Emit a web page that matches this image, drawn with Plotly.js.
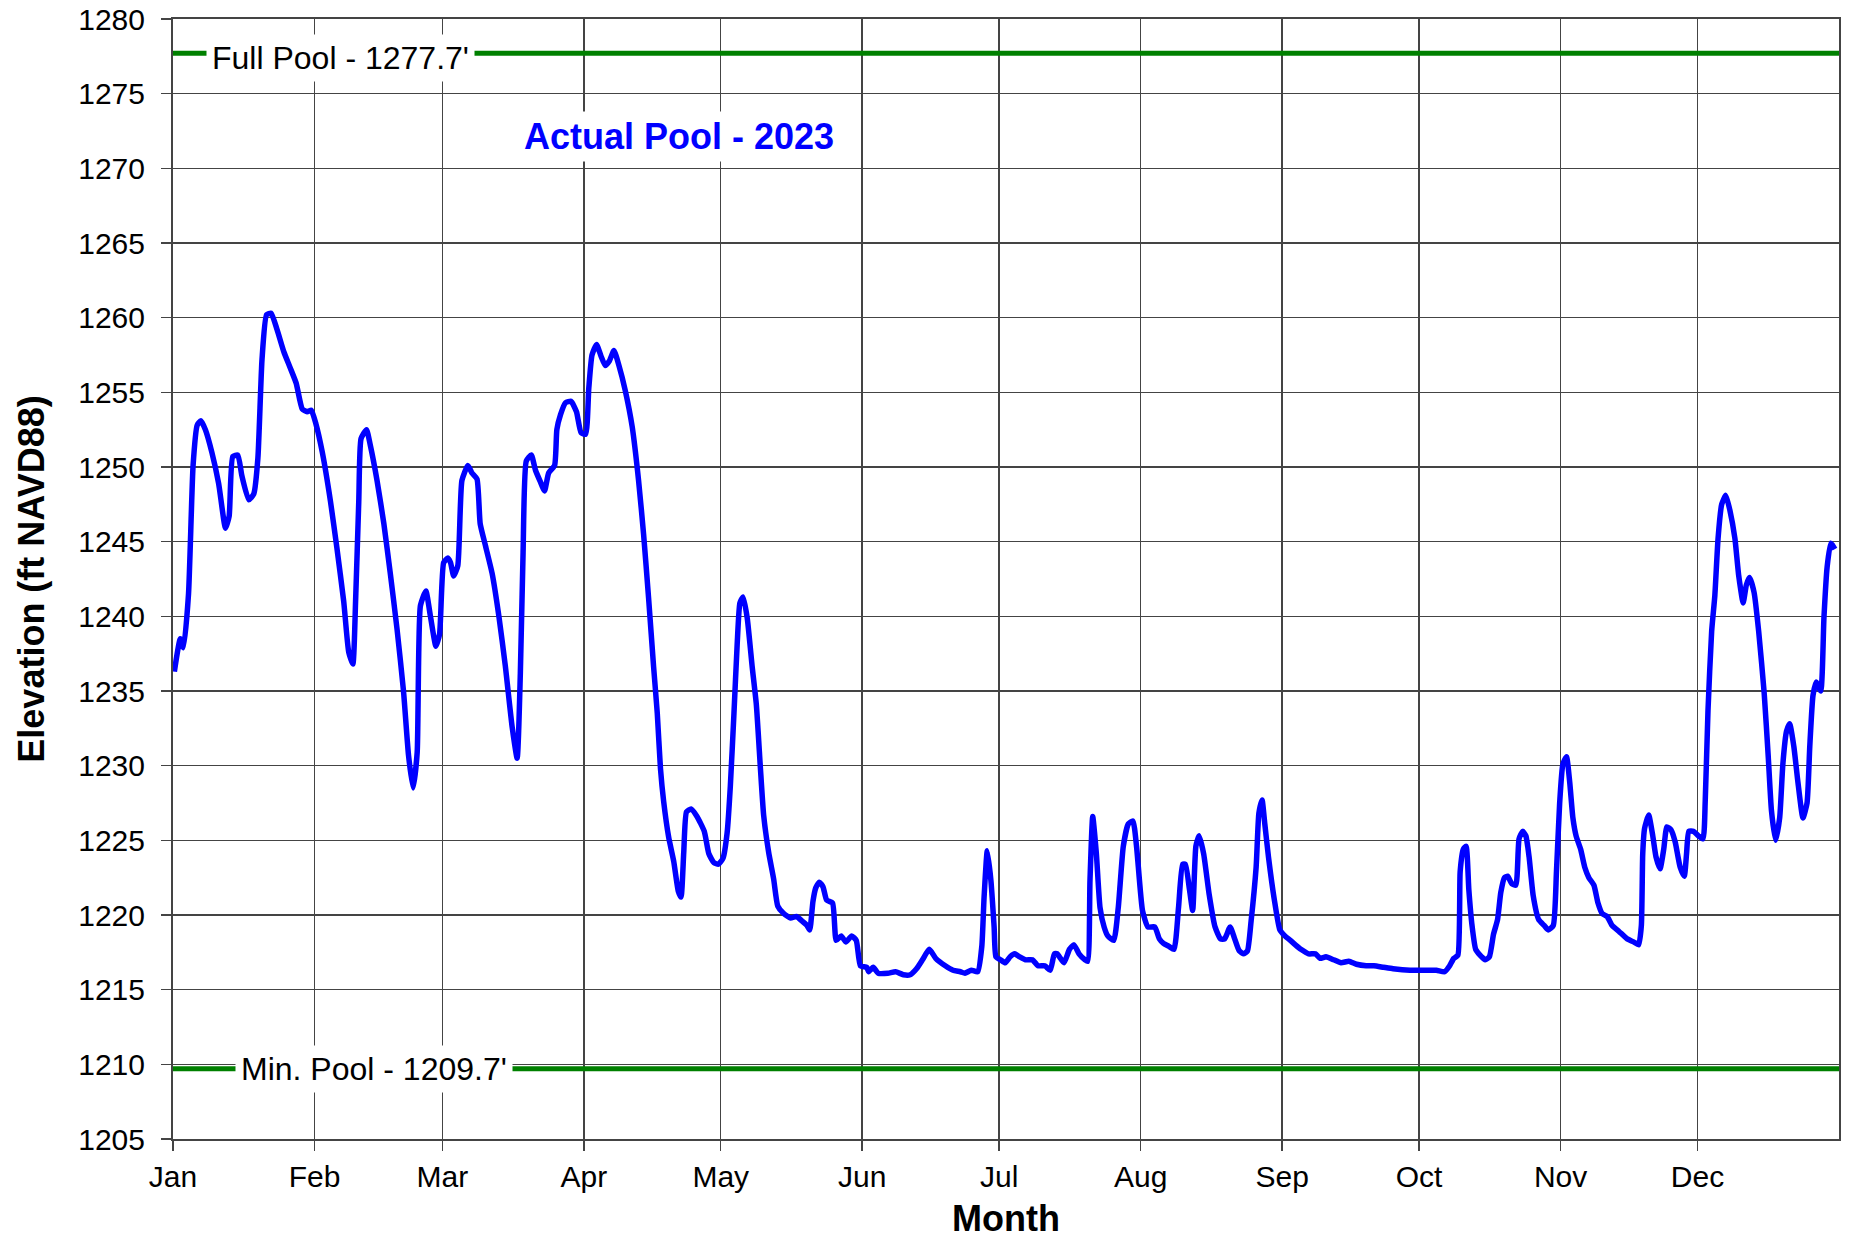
<html><head>
<meta charset="utf-8">
<script src="https://cdn.plot.ly/plotly-3.0.1.min.js"></script>
<style>
body { margin: 0; background: #fff; }
#chart { width: 1849px; height: 1239px; }
</style>
</head>
<body>
<div id="chart"></div>
<script>
// pool elevation 2023 (day of year, ft NAVD88)
const year = 2023;
const dayOfYear = [
  0.3, 1.6, 2.3, 3.4, 4.4, 5.3, 6.1, 7.1, 8.5, 10, 11.5, 12.3, 13.1, 14.2, 15.1, 16.6, 17.7, 18.6, 19.5, 20.5,
  21.5, 22.8, 24.3, 25.6, 27, 28.3, 29.4, 30.3, 31.3, 32.7, 34.5, 35.9, 37.4, 38.5, 39.4, 40, 40.7, 41.2, 42.4, 43.2,
  44.7, 46.2, 47.6, 49.1, 50.5, 51.6, 52.6, 53.5, 54.2, 55.4, 56.4, 57.6, 58.4, 59.3, 60.2, 60.8, 61.5, 62.4, 63.3, 64.6,
  65.5, 66.6, 67.3, 68.4, 69.9, 71.4, 72.8, 74.3, 75.4, 76.1, 76.7, 77.4, 78.5, 79.4, 80.5, 81.4, 82.3, 83.6, 84.1, 84.9,
  86, 87.2, 88.4, 89.4, 90.4, 91.1, 91.8, 92.8, 93.8, 94.7, 95.6, 96.6, 97.7, 99.1, 100.6, 102, 103.1, 104.2, 105.3, 106.1,
  106.8, 107.5, 108.6, 109.7, 110.7, 111.3, 111.9, 112.5, 113.5, 114.8, 116.4, 117.4, 118.5, 119.5, 120.5, 121.4, 122.1, 122.9, 123.6, 124.2,
  124.9, 125.8, 126.9, 127.8, 128.7, 129.4, 130.5, 131.6, 132.5, 133.8, 135.3, 136.6, 137.8, 138.9, 139.5, 140.2, 140.8, 141.6, 142.4, 143.2,
  144.5, 145.3, 146.4, 147.4, 148.7, 149.7, 150.6, 152, 152.4, 153.4, 154.5, 156.6, 158.3, 160, 161.5, 162.9, 164.2, 165.7, 167.1, 169.2,
  170.9, 172.5, 173.5, 174.9, 176.3, 177.2, 177.7, 178.4, 179.2, 179.9, 180.3, 181.3, 182.3, 183.4, 184.4, 185.5, 186.8, 188.3, 189.5, 191,
  192.2, 193.1, 193.7, 195.2, 196.4, 197.4, 198.5, 199.8, 200.4, 200.9, 201.5, 202.3, 203.1, 204, 204.8, 206.1, 207.1, 208.2, 209.3, 210.3,
  211.1, 212.4, 213.6, 215.1, 216.1, 217, 218.2, 219.3, 220.3, 221.2, 221.8, 222.7, 223.4, 224.1, 224.8, 225.8, 227, 228.3, 229.5, 230.4,
  231.6, 232.5, 233.6, 234.6, 235.4, 236.2, 237.3, 237.9, 238.6, 239.2, 240, 241.3, 242.5, 243.6, 244.8, 245.9, 247.1, 248.8, 250.3, 251.3,
  252.6, 254.3, 255.9, 257.6, 259.3, 261.4, 263.1, 265.2, 267.3, 271, 274.6, 276.8, 278.6, 279.7, 280.6, 281.5, 282, 282.7, 283.3, 283.9,
  284.6, 285.4, 286.4, 287.5, 288.4, 289.3, 290.2, 290.9, 291.7, 292.4, 293.3, 294.2, 294.9, 295.7, 296.4, 297.1, 298, 299.2, 300.4, 301.3,
  302.4, 303.1, 303.8, 304.5, 305.3, 306, 306.7, 307.4, 308.4, 309.3, 310.2, 311.3, 312.2, 313.1, 314.2, 315.3, 316.8, 318.6, 320, 321.1,
  321.7, 322, 322.4, 323.3, 324.2, 324.9, 325.8, 326.6, 327.3, 328.2, 329.1, 330.2, 331.1, 331.6, 332.1, 333.1, 334.2, 335.2, 335.7, 336.3,
  337.1, 337.8, 338.5, 339.3, 340.2, 341.1, 342.2, 343, 344, 344.7, 345.4, 346.4, 347.4, 348.6, 349.5, 350.2, 351.1, 352, 352.7, 353.5,
  354.2, 355.1, 356, 357.1, 358, 358.6, 359.3, 360, 361, 361.7, 362.4, 363.2, 364.1
];
const elevation = [
  1236.3, 1238.5, 1237.9, 1241.5, 1250.1, 1252.8, 1253.1, 1252.5, 1251.0, 1248.9, 1245.9, 1246.7, 1250.7, 1250.8, 1249.4, 1247.8, 1248.2, 1250.6, 1257.2, 1260.2,
  1260.3, 1259.2, 1257.7, 1256.7, 1255.6, 1253.9, 1253.7, 1253.8, 1252.9, 1251.0, 1247.7, 1244.6, 1241.0, 1237.6, 1236.8, 1241.0, 1247.7, 1251.9, 1252.5, 1251.5,
  1249.1, 1246.2, 1242.9, 1239.1, 1235.0, 1230.7, 1228.5, 1230.9, 1240.7, 1241.7, 1240.0, 1238.0, 1238.8, 1243.6, 1243.9, 1243.6, 1242.7, 1243.4, 1249.1, 1250.1,
  1249.6, 1249.2, 1246.2, 1244.8, 1242.9, 1240.0, 1236.7, 1232.6, 1230.5, 1236.2, 1244.3, 1250.4, 1250.8, 1249.8, 1249.0, 1248.4, 1249.6, 1250.1, 1252.5, 1253.5,
  1254.3, 1254.4, 1253.7, 1252.3, 1252.2, 1255.3, 1257.5, 1258.2, 1257.4, 1256.8, 1257.1, 1257.8, 1256.8, 1255.1, 1252.7, 1249.1, 1245.5, 1241.2, 1236.6, 1233.5,
  1229.8, 1227.6, 1225.2, 1223.6, 1221.6, 1221.2, 1224.2, 1226.9, 1227.1, 1226.6, 1225.6, 1224.1, 1223.5, 1223.4, 1223.8, 1225.5, 1228.6, 1233.5, 1238.1, 1240.9,
  1241.3, 1239.9, 1236.6, 1234.1, 1229.8, 1226.7, 1224.2, 1222.4, 1220.6, 1220.1, 1219.8, 1219.9, 1219.6, 1219.3, 1219.0, 1220.9, 1221.8, 1222.2, 1221.9, 1221.0,
  1220.8, 1218.3, 1218.6, 1218.2, 1218.6, 1218.3, 1216.6, 1216.5, 1216.2, 1216.5, 1216.1, 1216.1, 1216.2, 1216.0, 1216.0, 1216.4, 1217.0, 1217.7, 1217.1, 1216.6,
  1216.3, 1216.2, 1216.1, 1216.3, 1216.2, 1217.9, 1221.2, 1224.3, 1222.3, 1219.2, 1217.2, 1217.0, 1216.8, 1217.2, 1217.4, 1217.2, 1217.0, 1217.0, 1216.6, 1216.6,
  1216.3, 1217.4, 1217.4, 1216.8, 1217.7, 1218.0, 1217.4, 1217.0, 1216.9, 1222.3, 1226.6, 1224.1, 1220.5, 1219.2, 1218.6, 1218.3, 1220.5, 1224.6, 1226.1, 1226.3,
  1224.6, 1220.3, 1219.2, 1219.2, 1218.4, 1218.1, 1217.9, 1217.7, 1220.5, 1223.4, 1223.4, 1221.7, 1220.3, 1224.6, 1225.3, 1224.1, 1221.4, 1219.2, 1218.4, 1218.4,
  1219.2, 1218.5, 1217.6, 1217.4, 1217.6, 1219.6, 1223.2, 1226.8, 1227.7, 1226.1, 1223.9, 1221.0, 1219.0, 1218.6, 1218.3, 1218.0, 1217.7, 1217.4, 1217.4, 1217.1,
  1217.2, 1217.0, 1216.8, 1216.9, 1216.7, 1216.6, 1216.6, 1216.5, 1216.4, 1216.3, 1216.3, 1216.3, 1216.2, 1216.6, 1217.1, 1217.3, 1222.9, 1224.4, 1224.6, 1221.7,
  1219.3, 1217.7, 1217.3, 1217.0, 1217.2, 1218.7, 1219.7, 1221.5, 1222.5, 1222.6, 1222.1, 1222.0, 1225.1, 1225.6, 1225.3, 1223.9, 1221.3, 1219.7, 1219.3, 1219.0,
  1219.3, 1222.9, 1227.5, 1230.1, 1230.6, 1228.9, 1226.5, 1225.3, 1224.4, 1223.2, 1222.5, 1222.0, 1220.8, 1220.1, 1219.9, 1219.3, 1218.9, 1218.4, 1218.2, 1218.0,
  1219.3, 1224.1, 1225.8, 1226.7, 1225.3, 1223.9, 1223.1, 1224.4, 1225.9, 1225.7, 1224.9, 1223.2, 1222.6, 1224.1, 1225.6, 1225.6, 1225.3, 1225.1, 1227.7, 1233.7,
  1239.0, 1241.4, 1245.2, 1247.5, 1248.1, 1247.1, 1245.2, 1242.8, 1240.9, 1242.1, 1242.6, 1241.6, 1239.0, 1234.9, 1230.6, 1227.0, 1225.0, 1226.5, 1230.1, 1232.3,
  1232.8, 1231.3, 1228.9, 1226.5, 1227.5, 1231.3, 1234.7, 1235.6, 1235.0, 1239.9, 1243.3, 1244.9, 1244.5
];
const monthLabels = ['Jan', 'Feb', 'Mar', 'Apr', 'May', 'Jun', 'Jul', 'Aug', 'Sep', 'Oct', 'Nov', 'Dec'];
const fullPool = 1277.7;
const minPool = 1209.7;

const DAY = 86400000;
const t0 = Date.UTC(year, 0, 1);
const t1 = Date.UTC(year + 1, 0, 1);
const dates = dayOfYear.map(d => t0 + d * DAY);
const FONT = 'Arial, "Liberation Sans", sans-serif';

const data = [
  {
    x: [t0, t1], y: [fullPool, fullPool],
    type: 'scatter', mode: 'lines',
    line: {color: '#008000', width: 5}
  },
  {
    x: [t0, t1], y: [minPool, minPool],
    type: 'scatter', mode: 'lines',
    line: {color: '#008000', width: 5}
  },
  {
    x: dates, y: elevation,
    type: 'scatter', mode: 'lines',
    line: {color: '#0000ff', width: 5.5, shape: 'spline', smoothing: 0.5}
  }
];

const layout = {
  width: 1849, height: 1239,
  margin: {l: 173, r: 10, t: 19, b: 100},
  paper_bgcolor: '#fff', plot_bgcolor: '#fff',
  showlegend: false,
  font: {family: FONT, color: '#000'},
  xaxis: {
    type: 'date',
    range: [t0, t1],
    tickvals: monthLabels.map((m, i) => Date.UTC(year, i, 1)),
    ticktext: monthLabels,
    ticks: 'outside', ticklen: 10, tickcolor: '#444', tickwidth: 1.5,
    tickfont: {size: 30},
    showgrid: true, gridcolor: '#444', gridwidth: 1.5,
    showline: true, linecolor: '#444', linewidth: 2, mirror: true,
    zeroline: false,
    title: {text: '<b>Month</b>', font: {size: 36}, standoff: 14}
  },
  yaxis: {
    range: [1205, 1280],
    dtick: 5, tick0: 1205,
    ticks: 'outside', ticklen: 10, tickcolor: '#444', tickwidth: 1.5,
    tickfont: {size: 30}, ticklabelstandoff: 10,
    showgrid: true, gridcolor: '#444', gridwidth: 1.5,
    showline: true, linecolor: '#444', linewidth: 2, mirror: true,
    zeroline: false,
    title: {text: '<b>Elevation (ft NAVD88)</b>', font: {size: 36}, standoff: 23}
  },
  annotations: [
    {
      xref: 'paper', yref: 'y', x: 0.1003, y: fullPool,
      xanchor: 'center', yanchor: 'middle', yshift: -5,
      text: "Full Pool - " + fullPool.toFixed(1) + "'",
      showarrow: false, bgcolor: '#fff', borderpad: 5,
      font: {size: 32, color: '#000'}
    },
    {
      xref: 'paper', yref: 'y', x: 0.1205, y: minPool,
      xanchor: 'center', yanchor: 'middle',
      text: "Min. Pool - " + minPool.toFixed(1) + "'",
      showarrow: false, bgcolor: '#fff', borderpad: 5,
      font: {size: 32, color: '#000'}
    },
    {
      xref: 'paper', yref: 'y', x: 0.3035, y: 1272.1,
      xanchor: 'center', yanchor: 'middle',
      text: '<b>Actual Pool - ' + year + '</b>',
      showarrow: false, bgcolor: '#fff', borderpad: 4,
      font: {size: 36, color: '#0000ff'}
    }
  ]
};

Plotly.newPlot('chart', data, layout, {displayModeBar: false, staticPlot: true});
</script>
</body></html>
